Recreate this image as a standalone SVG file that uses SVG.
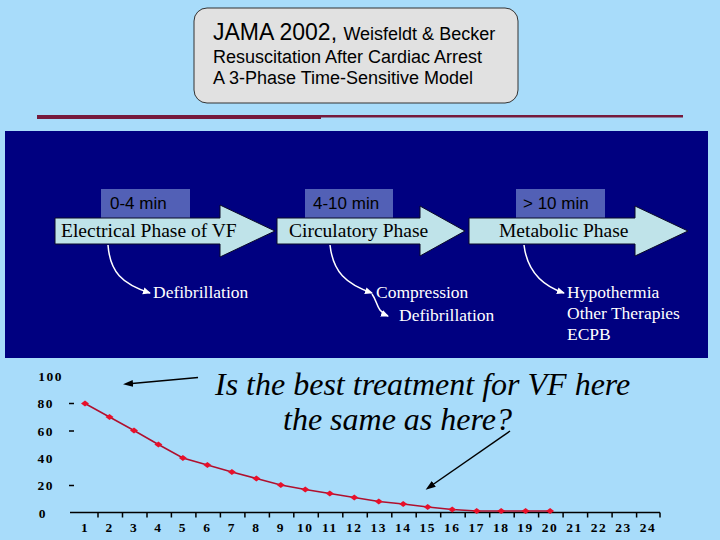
<svg xmlns="http://www.w3.org/2000/svg" width="720" height="540" viewBox="0 0 720 540">
<defs>
<style>
.arr{fill:#BFE3E9;stroke:#0A0A28;stroke-width:1}
.tbox{fill:#5260B6}
.tlab{font-family:"Liberation Sans",Arial,sans-serif;font-size:17px;fill:#000}
.plab{font-family:"Liberation Serif","Times New Roman",serif;font-size:19.5px;fill:#000}
.wlab{font-family:"Liberation Serif","Times New Roman",serif;font-size:17.5px;fill:#fff}
.con{fill:none;stroke:#fff;stroke-width:1.5}
.ax{font-family:"Liberation Serif","Times New Roman",serif;font-size:13.5px;font-weight:bold;fill:#000;letter-spacing:1.5px}
.q{font-family:"Liberation Serif","Times New Roman",serif;font-size:32px;font-style:italic;fill:#000}
</style>
<marker id="wh" markerWidth="8" markerHeight="8" refX="7" refY="4" orient="auto" markerUnits="userSpaceOnUse">
<path d="M0,0.5 L8,4 L0,7.5 Z" fill="#fff"/>
</marker>
<marker id="bh" markerWidth="10" markerHeight="8" refX="1" refY="4" orient="auto-start-reverse" markerUnits="userSpaceOnUse">
<path d="M10,4 L0,0.5 L0,7.5 Z" fill="#000"/>
</marker>
<path id="pt" d="M-4,0 L0,-3 L4,0 L0,3 Z"/>
</defs>
<rect width="720" height="540" fill="#A8DCFA"/>

<g id="title">
<rect x="194" y="8" width="324" height="95" rx="13" fill="#E1E1E1" stroke="#333" stroke-width="1"/>
<text x="213" y="40" font-family="Liberation Sans,Arial,sans-serif" font-size="23" fill="#000">JAMA 2002, <tspan font-size="18">Weisfeldt &amp; Becker</tspan></text>
<text x="213" y="63" font-family="Liberation Sans,Arial,sans-serif" font-size="18" fill="#000">Resuscitation After Cardiac Arrest</text>
<text x="213" y="84" font-family="Liberation Sans,Arial,sans-serif" font-size="18" fill="#000">A 3-Phase Time-Sensitive Model</text>
</g>

<g id="rule">
<rect x="37" y="115" width="284" height="4" fill="#761A3C"/>
<rect x="321" y="115" width="362" height="2.5" fill="#761A3C"/>
</g>

<rect id="panel" x="5" y="131" width="703" height="227" fill="#000080"/>

<g id="phase1">
<rect class="tbox" x="101" y="189" width="89" height="30"/>
<text class="tlab" x="110" y="209">0-4 min</text>
<polygon class="arr" points="55,218 220,218 220,205 275,231 220,257 220,244 55,244"/>
<text class="plab" x="61" y="237">Electrical Phase of VF</text>
</g>
<g id="phase2">
<rect class="tbox" x="305" y="189" width="88" height="30"/>
<text class="tlab" x="313" y="209">4-10 min</text>
<polygon class="arr" points="277,218 420,218 420,206 465,231 420,256 420,244 277,244"/>
<text class="plab" x="289" y="237">Circulatory Phase</text>
</g>
<g id="phase3">
<rect class="tbox" x="516" y="189" width="89" height="30"/>
<text class="tlab" x="523" y="209">&gt; 10 min</text>
<polygon class="arr" points="469,218 635,218 635,206 688,231 635,256 635,244 469,244"/>
<text class="plab" x="499" y="237">Metabolic Phase</text>
</g>

<g id="treat1"><text class="wlab" x="153" y="298">Defibrillation</text></g>
<g id="treat2">
<text class="wlab" x="376" y="298">Compression</text>
<text class="wlab" x="399" y="321">Defibrillation</text>
</g>
<g id="treat3">
<text class="wlab" x="567" y="298">Hypothermia</text>
<text class="wlab" x="567" y="319">Other Therapies</text>
<text class="wlab" x="567" y="340">ECPB</text>
</g>

<g id="connectors">
<path class="con" d="M108,245 C110,272 122,284 150,293" marker-end="url(#wh)"/>
<path class="con" d="M330,245 C333,272 346,284 372,293" marker-end="url(#wh)"/>
<path class="con" d="M372,294 C378,302 376,311 388,316" marker-end="url(#wh)"/>
<path class="con" d="M524,245 C527,270 540,285 564,293" marker-end="url(#wh)"/>
<line x1="198" y1="377.5" x2="132" y2="383.5" stroke="#000" stroke-width="1.5" marker-end="url(#bh)"/>
<line x1="510" y1="431" x2="433" y2="484.5" stroke="#000" stroke-width="1.5" marker-end="url(#bh)"/>
</g>

<g id="question">
<text class="q" x="215" y="395">Is the best treatment for VF here</text>
<text class="q" x="283" y="430">the same as here?</text>
</g>

<g id="chart">
<g class="ax" text-anchor="end">
<text x="63" y="381">100</text>
<text x="54" y="408">80</text>
<text x="54" y="436">60</text>
<text x="54" y="463">40</text>
<text x="54" y="490">20</text>
<text x="47" y="518">0</text>
</g>
<g stroke="#000" stroke-width="1.5">
<line x1="69" y1="403.5" x2="74" y2="403.5"/>
<line x1="69" y1="431" x2="74" y2="431"/>
<line x1="69" y1="485.5" x2="74" y2="485.5"/>
<line x1="70" y1="512.5" x2="660" y2="512.5"/>
<path d="M98,512.5v5M122.5,512.5v5M147,512.5v5M171.4,512.5v5M195.9,512.5v5M220.4,512.5v5M244.9,512.5v5M269.4,512.5v5M293.8,512.5v5M318.3,512.5v5M342.8,512.5v5M367.3,512.5v5M391.8,512.5v5M416.2,512.5v5M440.7,512.5v5M465.2,512.5v5M489.7,512.5v5M514.2,512.5v5M538.6,512.5v5M563.1,512.5v5M587.6,512.5v5M612.1,512.5v5M636.6,512.5v5M660,512.5v5"/>
</g>
<g class="ax" text-anchor="middle">
<text x="85" y="532">1</text><text x="109.5" y="532">2</text><text x="134" y="532">3</text><text x="158.4" y="532">4</text><text x="182.9" y="532">5</text><text x="207.4" y="532">6</text><text x="231.9" y="532">7</text><text x="256.4" y="532">8</text><text x="280.8" y="532">9</text><text x="305.3" y="532">10</text><text x="329.8" y="532">11</text><text x="354.3" y="532">12</text><text x="378.8" y="532">13</text><text x="403.2" y="532">14</text><text x="427.7" y="532">15</text><text x="452.2" y="532">16</text><text x="476.7" y="532">17</text><text x="501.2" y="532">18</text><text x="525.6" y="532">19</text><text x="550.1" y="532">20</text><text x="574.6" y="532">21</text><text x="599.1" y="532">22</text><text x="623.6" y="532">23</text><text x="648" y="532">24</text>
</g>
<polyline fill="none" stroke="#B0102E" stroke-width="1.5" points="85,403.5 109.5,417 134,430.5 158.4,444.5 182.9,458 207.4,465 231.9,472 256.4,478.5 280.8,485 305.3,489.5 329.8,493.5 354.3,497.5 378.8,501.5 403.2,504 427.7,507 452.2,509.5 476.7,511 501.2,511 525.6,511 550.1,511"/>
<g fill="#E8102A">
<use href="#pt" x="85" y="403.5"/><use href="#pt" x="109.5" y="417"/><use href="#pt" x="134" y="430.5"/><use href="#pt" x="158.4" y="444.5"/><use href="#pt" x="182.9" y="458"/><use href="#pt" x="207.4" y="465"/><use href="#pt" x="231.9" y="472"/><use href="#pt" x="256.4" y="478.5"/><use href="#pt" x="280.8" y="485"/><use href="#pt" x="305.3" y="489.5"/><use href="#pt" x="329.8" y="493.5"/><use href="#pt" x="354.3" y="497.5"/><use href="#pt" x="378.8" y="501.5"/><use href="#pt" x="403.2" y="504"/><use href="#pt" x="427.7" y="507"/><use href="#pt" x="452.2" y="509.5"/><use href="#pt" x="476.7" y="511"/><use href="#pt" x="501.2" y="511"/><use href="#pt" x="525.6" y="511"/><use href="#pt" x="550.1" y="511"/>
</g>
</g>
</svg>
